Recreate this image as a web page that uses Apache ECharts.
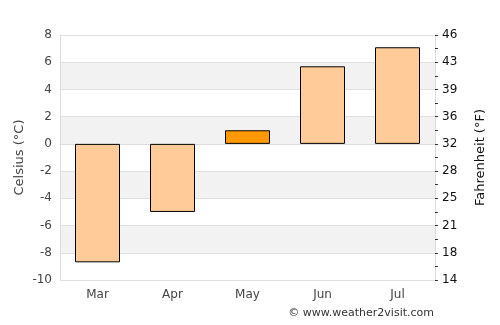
<!DOCTYPE html>
<html><head><meta charset="utf-8">
<script src="https://cdn.jsdelivr.net/npm/echarts@6/dist/echarts.min.js"></script>
<style>html,body{margin:0;padding:0;background:#fff}#c{width:500px;height:325px}</style>
</head><body><div id="c"></div>
<script>
var categories = ['Mar', 'Apr', 'May', 'Jun', 'Jul'];
var celsius = [-8.7, -5.0, 1.0, 5.7, 7.1];
var highlightIndex = 2;
var barColor = '#ffcc99';
var highlightColor = '#ff9900';
var fahrenheitLabels = {'-10':'14','-8':'18','-6':'21','-4':'25','-2':'28','0':'32','2':'36','4':'39','6':'43','8':'46'};
var copyright = '© www.weather2visit.com';

var font = 'DejaVu Sans';
var chart = echarts.init(document.getElementById('c'), null, {renderer: 'canvas'});
chart.setOption({
  animation: false,
  textStyle: {fontFamily: font},
  grid: {left: 60, right: 65, top: 35, bottom: 45},
  graphic: [{type: 'text', right: 66, top: 308, style: {text: copyright, font: '11px "DejaVu Sans"', fill: '#333'}}],
  xAxis: {
    type: 'category', data: categories,
    axisLine: {show: true, lineStyle: {color: '#ddd'}},
    axisTick: {show: false},
    axisLabel: {color: '#444', fontSize: 12, margin: 9, fontFamily: font}
  },
  yAxis: [{
    type: 'value', min: -10, max: 8, interval: 2,
    name: 'Celsius (°C)', nameLocation: 'middle', nameGap: 34, nameRotate: 90, nameMoveOverlap: false,
    nameTextStyle: {color: '#444', fontSize: 13, fontFamily: font},
    axisLine: {show: true, lineStyle: {color: '#ddd'}},
    axisTick: {show: false},
    axisLabel: {color: '#444', fontSize: 12, margin: 8, fontFamily: font},
    splitLine: {show: true, lineStyle: {color: '#e0e0e0'}},
    splitArea: {show: true, areaStyle: {color: ['#ffffff', '#f2f2f2']}}
  }, {
    type: 'value', min: -10, max: 8, interval: 2, position: 'right',
    name: 'Fahrenheit (°F)', nameLocation: 'middle', nameGap: 39, nameRotate: 90, nameMoveOverlap: false,
    nameTextStyle: {color: '#111', fontSize: 13, fontFamily: font},
    axisLine: {show: true, lineStyle: {color: '#ddd'}},
    axisTick: {show: true, length: 3, inside: false, lineStyle: {color: '#333'}},
    minorTick: {show: true, splitNumber: 2, length: 3, lineStyle: {color: '#333'}},
    axisLabel: {color: '#111', fontSize: 12, margin: 7, fontFamily: font,
      formatter: function (v) { return fahrenheitLabels[String(v)] || ''; }},
    splitLine: {show: false}
  }],
  series: [{
    type: 'bar', yAxisIndex: 0, barWidth: '60%',
    data: celsius.map(function (v, i) {
      return {value: v, itemStyle: {color: i === highlightIndex ? highlightColor : barColor}};
    }),
    itemStyle: {borderColor: '#000', borderWidth: 1}
  }]
});
</script></body></html>
